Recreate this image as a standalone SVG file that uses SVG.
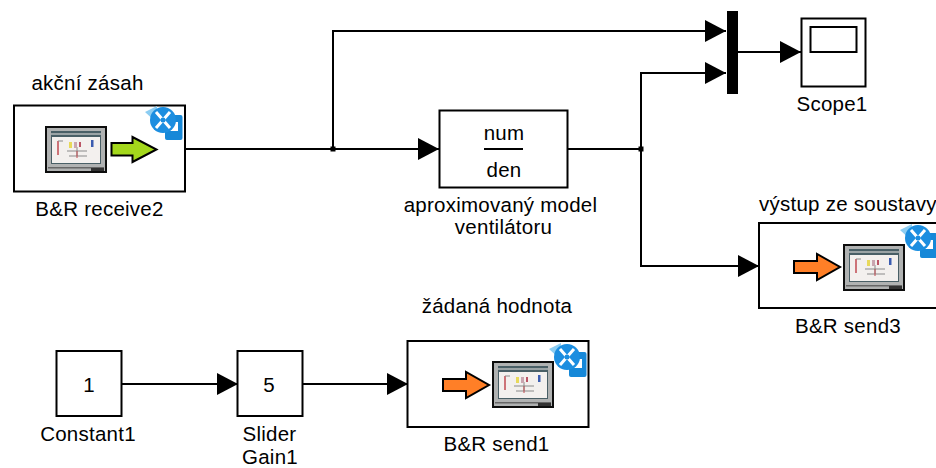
<svg xmlns="http://www.w3.org/2000/svg" width="936" height="468" viewBox="0 0 936 468">
<style>
text{font-family:"Liberation Sans",Arial,sans-serif;font-size:20.5px;letter-spacing:.25px;fill:#000;text-anchor:middle}
.b{fill:#fff;stroke:#000;stroke-width:2}
.w{fill:none;stroke:#000;stroke-width:2}
</style>
<defs>
<filter id="soft" x="-20%" y="-20%" width="140%" height="140%"><feGaussianBlur stdDeviation="0.6"/></filter>
<filter id="soft2" x="-5%" y="-5%" width="110%" height="110%"><feGaussianBlur stdDeviation="0.4"/></filter>
<marker id="ah" markerUnits="userSpaceOnUse" markerWidth="21" markerHeight="22" refX="21" refY="11" orient="auto"><path d="M0 0L21 11L0 22Z" fill="#000"/></marker>
<g id="screen" filter="url(#soft2)">
<rect x="0" y="0" width="62" height="47" fill="#111"/>
<rect x="2" y="2" width="58" height="43" fill="#b0b2b2"/>
<rect x="6" y="5" width="50" height="33" fill="#4a5f66"/>
<rect x="6" y="7" width="50" height="2" fill="#9aa3a5"/>
<rect x="7" y="11" width="48" height="26" fill="#f3f0ee"/>
<path d="M13 15v14" stroke="#c04a50" stroke-width="1.500" fill="none"/>
<path d="M13 15h5M22 25h20M32 21v9M24 30h18" stroke="#8a8a8a" stroke-width="1" fill="none"/>
<rect x="24" y="16" width="3" height="6" fill="#e8d95a"/>
<rect x="29" y="16" width="3" height="6" fill="#c9a6b0"/>
<rect x="34" y="16" width="2" height="5" fill="#b56"/>
<rect x="46" y="14" width="2.500" height="7" fill="#3a5cb0"/>
<path d="M32 25v7" stroke="#c04a50" stroke-width="1" fill="none"/>
<rect x="3" y="41" width="56" height="1.500" fill="#666"/>
<rect x="46" y="42" width="13" height="3" fill="#333"/>
</g>
<g id="badge" filter="url(#soft)">
<path d="M-18 -8L-6 -14L-6 3Z" fill="#8ccdf2"/>
<rect x="2" y="-5" width="17.500" height="25" rx="2" fill="#1488d8"/>
<rect x="7" y="2" width="8" height="9" fill="#fff"/>
<circle cx="0" cy="0" r="13" fill="#1a8ee0"/>
<path d="M-7 -8L7 8M7 -8L-7 8" stroke="#fff" stroke-width="3" fill="none"/>
<circle cx="0" cy="0" r="2.500" fill="#1a8ee0"/>
</g>
<path id="sendarrow" d="M0 -6H23V-13L46 0L23 13V6H0Z" fill="#ff7f27" stroke="#000" stroke-width="2"/>
</defs>
<g id="connectors">
<path class="w" d="M185 149H333V31H726" marker-end="url(#ah)"/>
<path class="w" d="M333 149H439" marker-end="url(#ah)"/>
<path class="w" d="M568 149H641V73H726" marker-end="url(#ah)"/>
<path class="w" d="M641 149V266H759" marker-end="url(#ah)"/>
<path class="w" d="M738 52H801" marker-end="url(#ah)"/>
<path class="w" d="M122 384H238" marker-end="url(#ah)"/>
<path class="w" d="M302 384H408" marker-end="url(#ah)"/>
<rect x="330.500" y="146.500" width="5" height="5" fill="#000"/>
<rect x="638.500" y="146.500" width="5" height="5" fill="#000"/>
</g>
<g id="receive2">
<rect class="b" x="14" y="105.500" width="171" height="86"/>
<use href="#screen" x="45" y="126"/>
<path d="M111.500 143H132.500V137L156.500 149.500L132.500 162V155.500H111.500Z" fill="#a4d81c" stroke="#000" stroke-width="2"/>
<use href="#badge" x="163" y="120"/>
<text x="87.500" y="90">akční zásah</text>
<text x="99.500" y="215.500">B&amp;R receive2</text>
</g>
<g id="tf">
<rect class="b" x="439.500" y="110.500" width="128" height="77"/>
<path class="w" d="M484 149H523"/>
<text x="504" y="140">num</text>
<text x="504" y="177">den</text>
<text x="500.500" y="211.500">aproximovaný model</text>
<text x="503.500" y="234">ventilátoru</text>
</g>
<g id="mux"><rect x="727" y="11" width="11" height="83" fill="#000"/></g>
<g id="scope">
<rect class="b" x="801.500" y="18.500" width="64" height="68"/>
<rect class="b" x="810.500" y="27" width="46" height="25"/>
<text x="832" y="110.500">Scope1</text>
</g>
<g id="send3">
<rect class="b" x="759" y="223" width="180" height="85"/>
<use href="#sendarrow" x="794" y="267"/>
<use href="#screen" x="843" y="244"/>
<use href="#badge" x="918" y="238"/>
<text x="759" y="210.500" style="text-anchor:start">výstup ze soustavy</text>
<text x="848" y="332.500">B&amp;R send3</text>
</g>
<g id="constant">
<rect class="b" x="56.500" y="351" width="65" height="65"/>
<text x="89" y="392">1</text>
<text x="88" y="440.500">Constant1</text>
</g>
<g id="slider">
<rect class="b" x="237.500" y="351" width="65" height="65"/>
<text x="269" y="392">5</text>
<text x="269.500" y="440.500">Slider</text>
<text x="270" y="464">Gain1</text>
</g>
<g id="send1">
<rect class="b" x="407.500" y="341" width="181" height="86"/>
<use href="#sendarrow" x="443" y="385"/>
<use href="#screen" x="492" y="361"/>
<use href="#badge" x="567" y="357"/>
<text x="497" y="312.500">žádaná hodnota</text>
<text x="496.500" y="450.500">B&amp;R send1</text>
</g>
</svg>
